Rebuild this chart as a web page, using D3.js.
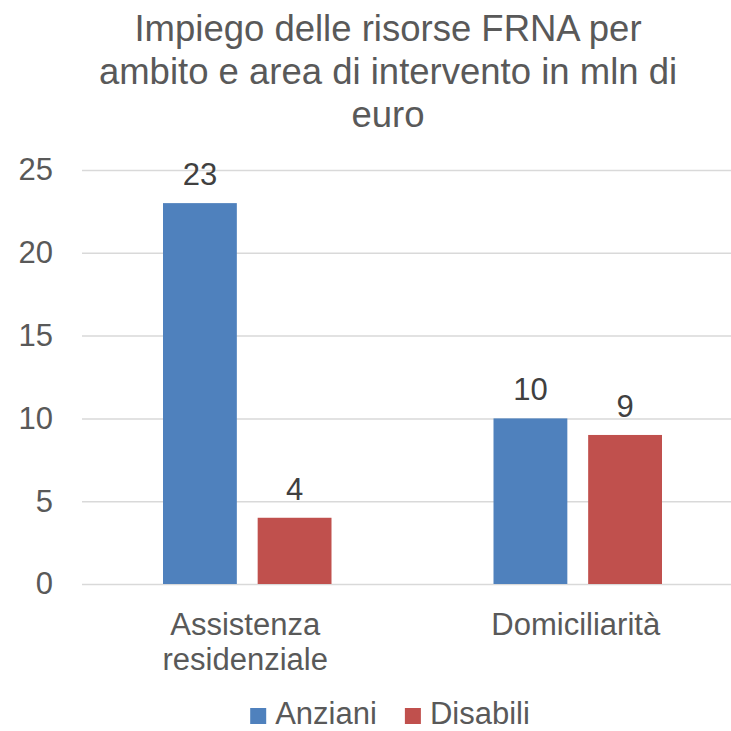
<!DOCTYPE html>
<html>
<head>
<meta charset="utf-8">
<script src="https://cdn.jsdelivr.net/npm/d3@7"></script>
<style>
  body { margin: 0; background: #fff; }
  svg { display: block; font-family: "Liberation Sans", Arial, sans-serif; }
</style>
</head>
<body>
<div id="chart"></div>
<script>
// data
var categories = ["Assistenza residenziale", "Domiciliarità"];
var seriesNames = ["Anziani", "Disabili"];
var anziani = [23, 10];
var disabili = [4, 9];
var yTicks = [0, 5, 10, 15, 20, 25];
var titleLines = ["Impiego delle risorse FRNA per", "ambito e area di intervento in mln di", "euro"];

var W = 731, H = 731;
var plot = {l: 82, r: 743, t: 170, b: 584};
var textColor = "#595959";
var colors = {"Anziani": "#4F81BD", "Disabili": "#C0504D"};

var svg = d3.select("#chart").append("svg")
    .attr("width", W)
    .attr("height", H);

var rows = categories.map(function (c, i) {
    return {cat: c, values: [
        {name: "Anziani", value: anziani[i]},
        {name: "Disabili", value: disabili[i]}
    ]};
});

var x0 = d3.scaleBand().domain(categories).range([plot.l, plot.r]);
var x1 = d3.scaleBand().domain(seriesNames)
    .range([81, x0.bandwidth() - 81])
    .paddingInner(0.22);
var y = d3.scaleLinear().domain([0, 25]).range([plot.b, plot.t]);

// gridlines + y labels
var yAxis = svg.append("g")
    .attr("transform", "translate(" + plot.l + ",0)")
    .call(d3.axisLeft(y).tickValues(yTicks).tickSize(-(plot.r - plot.l)).tickPadding(29));
yAxis.select(".domain").remove();
yAxis.selectAll(".tick line").attr("stroke", "#d9d9d9").attr("stroke-width", 1.5);
yAxis.selectAll(".tick text")
    .attr("fill", textColor)
    .attr("font-size", "31px")
    .attr("font-family", "Liberation Sans, Arial, sans-serif");

// bars
var groups = svg.selectAll(".grp")
    .data(rows)
    .enter().append("g")
    .attr("class", "grp")
    .attr("transform", function (d) { return "translate(" + x0(d.cat) + ",0)"; });

groups.selectAll("rect")
    .data(function (d) { return d.values; })
    .enter().append("rect")
    .attr("x", function (d) { return x1(d.name); })
    .attr("y", function (d) { return y(d.value); })
    .attr("width", x1.bandwidth())
    .attr("height", function (d) { return y(0) - y(d.value); })
    .attr("fill", function (d) { return colors[d.name]; });

groups.selectAll(".lbl")
    .data(function (d) { return d.values; })
    .enter().append("text")
    .attr("class", "lbl")
    .attr("x", function (d) { return x1(d.name) + x1.bandwidth() / 2; })
    .attr("y", function (d) { return y(d.value) - 18; })
    .attr("text-anchor", "middle")
    .attr("font-size", "31px")
    .attr("fill", "#404040")
    .text(function (d) { return d.value; });

// category labels, wrapped
categories.forEach(function (c) {
    var words = c.split(" ");
    var lines = words.length > 1 && c.length > 15 ? words : [c];
    var t = svg.append("text")
        .attr("text-anchor", "middle")
        .attr("font-size", "31px")
        .attr("fill", textColor);
    lines.forEach(function (ln, i) {
        t.append("tspan")
            .attr("x", x0(c) + x0.bandwidth() / 2 - 2)
            .attr("y", 635 + i * 35)
            .text(ln);
    });
});

// title
var title = svg.append("text")
    .attr("text-anchor", "middle")
    .attr("font-size", "36.5px")
    .attr("fill", textColor);
titleLines.forEach(function (ln, i) {
    title.append("tspan")
        .attr("x", 388)
        .attr("y", 41 + i * 43)
        .text(ln);
});

// legend
var legend = svg.append("g");
var lx = 0;
seriesNames.forEach(function (s, i) {
    var g = legend.append("g").attr("transform", "translate(" + lx + ",0)");
    g.append("rect")
        .attr("x", 0).attr("y", 708)
        .attr("width", 16).attr("height", 16)
        .attr("fill", colors[s]);
    var t = g.append("text")
        .attr("x", 25).attr("y", 724)
        .attr("font-size", "31px")
        .attr("fill", textColor)
        .text(s);
    lx += 25 + t.node().getComputedTextLength() + 28;
});
var lw = lx - 28;
legend.attr("transform", "translate(" + (390 - lw / 2) + ",0)");
</script>
</body>
</html>
